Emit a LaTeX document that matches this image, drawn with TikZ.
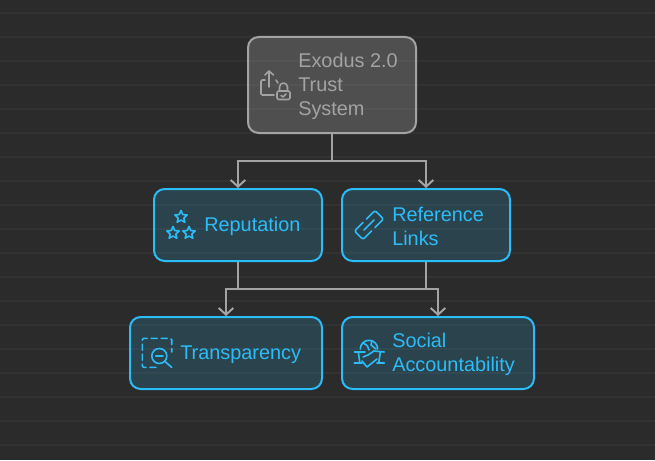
\documentclass[tikz,border=0pt]{standalone}
\usepackage{fontspec}
\setmainfont{Liberation Sans}
\usetikzlibrary{arrows.meta}
\definecolor{pagebg}{HTML}{2B2B2B}
\definecolor{gridline}{HTML}{323232}
\definecolor{linkgray}{HTML}{A3A3A3}
\definecolor{rootfill}{HTML}{A3A3A3}
\definecolor{cyanline}{HTML}{2CBDF8}
\tikzset{
	box/.style={draw, rounded corners=8pt, line width=1.5pt, inner sep=0pt},
	rootbox/.style={box, draw=linkgray, fill=rootfill, fill opacity=.3, text opacity=1},
	leafbox/.style={box, draw=cyanline, fill=cyanline, fill opacity=.17, text opacity=1},
	boxtext/.style={anchor=west, align=left, inner sep=0pt, font=\fontsize{14.9pt}{18pt}\selectfont},
	link/.style={draw=linkgray, line width=1.5pt, -{Straight Barb[length=5pt,width=11pt]}},
	plainlink/.style={draw=linkgray, line width=1.5pt},
	iconline/.style={line width=1.2pt, line cap=round, line join=round},
	staricon/.pic={\draw[iconline, draw=cyanline] (-90:6.5) -- (-54:3) -- (-18:6.5) -- (18:3) -- (54:6.5) -- (90:3) -- (126:6.5) -- (162:3) -- (198:6.5) -- (234:3) -- cycle;}
}
\begin{document}
\begin{tikzpicture}[x=.75pt, y=-.75pt]
	\useasboundingbox (0,0) rectangle (655,460);
	\fill[pagebg] (0,0) rectangle (655,460);
	\foreach \y in {13,37,...,445}
		\draw[gridline, line width=1pt] (0,\y) -- (655,\y);

	\node[rootbox, minimum width=126pt, minimum height=72pt] (root) at (332,85) {};
	\node[leafbox, minimum width=126pt, minimum height=54pt] (reputation) at (238,225) {};
	\node[leafbox, minimum width=126pt, minimum height=54pt] (reference) at (426,225) {};
	\node[leafbox, minimum width=144pt, minimum height=54pt] (transparency) at (226,353) {};
	\node[leafbox, minimum width=144pt, minimum height=54pt] (social) at (438,353) {};

	\node[boxtext, text=linkgray] (roottext) at (298,86.500) {Exodus 2.0\\Trust\\System};
	\node[boxtext, text=cyanline] (reputationtext) at (204,226.500) {Reputation};
	\node[boxtext, text=cyanline] (referencetext) at (392,226.500) {Reference\\Links};
	\node[boxtext, text=cyanline] (transparencytext) at (180,354.500) {Transparency};
	\node[boxtext, text=cyanline] (socialtext) at (392,354.500) {Social\\Accountability};

	\coordinate (upperbus) at (332,161);
	\coordinate (lowerbus) at (332,289);
	\draw[plainlink] (root.south) -- (upperbus);
	\draw[link] (upperbus) -| (reputation.north);
	\draw[link] (upperbus) -| (reference.north);
	\draw[plainlink] (reputation.south) |- (lowerbus);
	\draw[plainlink] (reference.south) |- (lowerbus);
	\draw[link] (lowerbus) -| (transparency.north);
	\draw[link] (lowerbus) -| (social.north);

	\begin{scope}[iconline, draw=linkgray]
		\draw (269,87) -- (269,71) (265,75) -- (269,71) -- (273.500,75);
		\draw[rounded corners=1pt] (265,80) -- (261,80) -- (261,95) -- (274,95);
		\draw (276,80) -- (278,83);
		\draw[rounded corners=1.500pt] (277,91) rectangle (290,99.500);
		\draw (279.500,91) -- (279.500,87) arc[start angle=180, end angle=360, radius=4] -- (287.500,91);
		\draw (281,95.500) -- (283,97) -- (286,94);
	\end{scope}

	\path (181,217) pic {staricon} (173,233) pic {staricon} (189,233) pic {staricon};

	\begin{scope}[iconline, draw=cyanline, shift={(369,225)}, rotate=45]
		\draw[rounded corners=1.500pt] (-2.500,-6) -- (-14.500,-6) -- (-14.500,6) -- (-2.500,6);
		\draw[rounded corners=1.500pt] (2.500,-6) -- (14.500,-6) -- (14.500,6) -- (2.500,6);
		\draw (-7,0) -- (7,0);
	\end{scope}

	\begin{scope}[iconline, draw=cyanline]
		\draw[dash pattern=on 4.500pt off 3pt, rounded corners=1pt] (156,367.300) -| (142.300,338.300) -| (171.700,352);
		\draw (159.300,356) circle[radius=7.500];
		\draw (165,361.500) -- (171.700,367.300);
		\draw (155.700,356) -- (163,356);
	\end{scope}

	\begin{scope}[iconline, draw=cyanline]
		\draw (360.300,349) arc[start angle=180, end angle=360, radius=8.700];
		\draw (363,343) .. controls (367,345) and (369,347) .. (369,350);
		\draw (372,340.500) -- (371,345) -- (376,349);
		\draw (354.300,352) -- (365,352) (374,351) -- (384.300,352);
		\draw (354.300,362.700) -- (362,362.700) (377,362.700) -- (384.300,362.700);
		\draw (358.300,352) -- (359.800,362.700) (380.300,352) -- (378.800,362.700);
		\draw (362,361) -- (367,367) -- (377,359);
		\draw (374,351) -- (368,355) -- (363,357);
	\end{scope}
\end{tikzpicture}
\end{document}
